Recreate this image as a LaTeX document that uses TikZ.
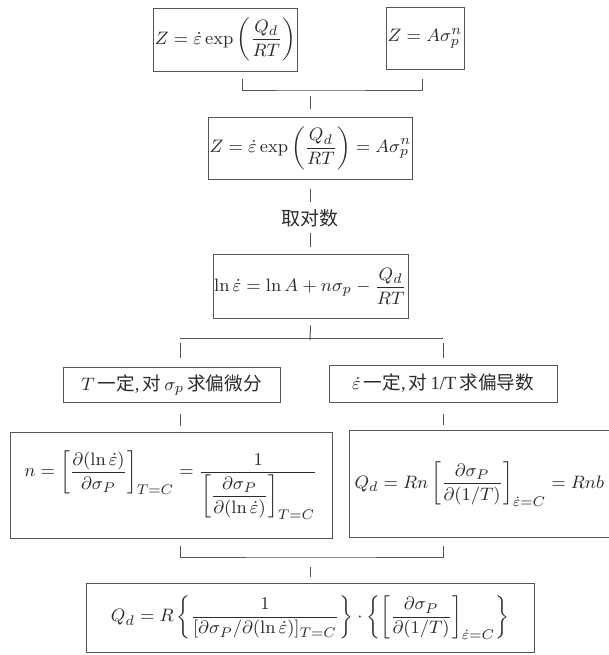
\documentclass[tikz,border=0pt]{standalone}
\usepackage{amsmath}
\usepackage[no-math]{fontspec}
\setmainfont{Liberation Serif}
\newfontfamily\cjk{Noto Sans CJK SC}
\usepackage{xcolor}
\usetikzlibrary{calc}
\definecolor{inkGray}{HTML}{2B2B2B}
\definecolor{frameGray}{HTML}{555555}

\begin{document}
\begin{tikzpicture}[x=0.5pt, y=-0.5pt,
    eqbox/.style={draw=frameGray, line width=0.5pt, text=inkGray, inner sep=0.5pt, align=center,
        font=\fontsize{9.3}{11}\selectfont},
    link/.style={frameGray, line width=0.5pt}]
    \fill[white] (0,0) rectangle (609,655);
    \useasboundingbox (0,0) rectangle (609,655);

    \node[eqbox, minimum width=69.5pt, minimum height=31.5pt] (zdot) at (225.5,39.5)
        {$Z = \dot{\varepsilon}\exp\left(\dfrac{Q_d}{RT}\right)$};
    \node[eqbox, minimum width=39pt, minimum height=31pt] (zpow) at (425,38)
        {$Z = A\sigma_p^n$};
    \node[eqbox, minimum width=97.5pt, minimum height=31pt] (zeq) at (310.5,148)
        {$Z = \dot{\varepsilon}\exp\left(\dfrac{Q_d}{RT}\right) = A\sigma_p^n$};
    \node[text=inkGray, font=\cjk\fontsize{9.5}{11}\selectfont] (takelog) at (310,218) {取对数};
    \node[eqbox, minimum width=97.5pt, minimum height=32pt] (lneps) at (310.5,286)
        {$\ln\dot{\varepsilon} = \ln A + n\sigma_p - \dfrac{Q_d}{RT}$};
    \node[eqbox, minimum width=108.5pt, minimum height=17.5pt] (tfix) at (171.5,384.5)
        {$T$\,{\cjk 一定},\,{\cjk 对}\,$\sigma_p$\,{\cjk 求偏微分}};
    \node[eqbox, minimum width=114pt, minimum height=18.5pt] (efix) at (443,383.5)
        {$\dot{\varepsilon}$\,{\cjk 一定},\,{\cjk 对}\,1/T\,{\cjk 求偏导数}};
    \node[eqbox, minimum width=161pt, minimum height=53pt] (nexpr) at (171,485)
        {$n = \left[\dfrac{\partial(\ln\dot{\varepsilon})}{\partial\sigma_P}\right]_{T=C}
          = \dfrac{1}{\left[\dfrac{\partial\sigma_P}{\partial(\ln\dot{\varepsilon})}\right]_{T=C}}$};
    \node[eqbox, draw=none, anchor=west, minimum height=53pt, text width=146pt, align=left, inner xsep=2.5pt]
        (qexpr) at (349,484)
        {$Q_d = Rn\left[\dfrac{\partial\sigma_P}{\partial(1/T)}\right]_{\dot{\varepsilon}=C} = Rnb$};
    \draw[link] (qexpr.north east) -- (qexpr.north west) -- (qexpr.south west) -- (qexpr.south east);
    \node[eqbox, minimum width=224pt, minimum height=34.5pt] (qfinal) at (310,617.5)
        {$Q_d = R\left\{\dfrac{1}{[\partial\sigma_P/\partial(\ln\dot{\varepsilon})]_{T=C}}\right\}\cdot
          \left\{\left[\dfrac{\partial\sigma_P}{\partial(1/T)}\right]_{\dot{\varepsilon}=C}\right\}$};

    \coordinate (join1) at (310,90);
    \coordinate (split) at (310,338);
    \coordinate (join2) at (310,557);
    \coordinate (lbranch) at (180,0);
    \coordinate (rbranch) at (443,0);

    \draw[link] ($(zdot.south)+(16.5,7)$) |- (join1) -| ($(zpow.south)+(-3,9)$);
    \draw[link] ($(zeq.north)+(0,-8)$) -- ++(0,-13);
    \draw[link] ($(zeq.south)+(0,9)$) -- ++(0,13);
    \draw[link] ($(lneps.north)+(0,-7)$) -- ++(0,-14);
    \draw[link] ($(lneps.south)+(0,7)$) -- ($(split)+(0,2)$);
    \draw[link] (split -| lbranch) -- (split -| rbranch);
    \foreach \b in {lbranch, rbranch}
        \draw[link] ($(split -| \b)+(0,5)$) -- ++(0,15);
    \draw[link] ($(tfix.south -| lbranch)+(0,11)$) -- ($(nexpr.north -| lbranch)+(0,-6)$);
    \draw[link] ($(efix.south -| rbranch)+(0,11)$) -- ($(qexpr.north -| rbranch)+(0,-6)$);
    \draw[link] ($(nexpr.south -| lbranch)+(0,7)$) |- (join2) -| ($(qexpr.south -| rbranch)+(0,8)$);
    \draw[link] ($(qfinal.north)+(0,-6)$) -- ++(0,-10);
\end{tikzpicture}
\end{document}
